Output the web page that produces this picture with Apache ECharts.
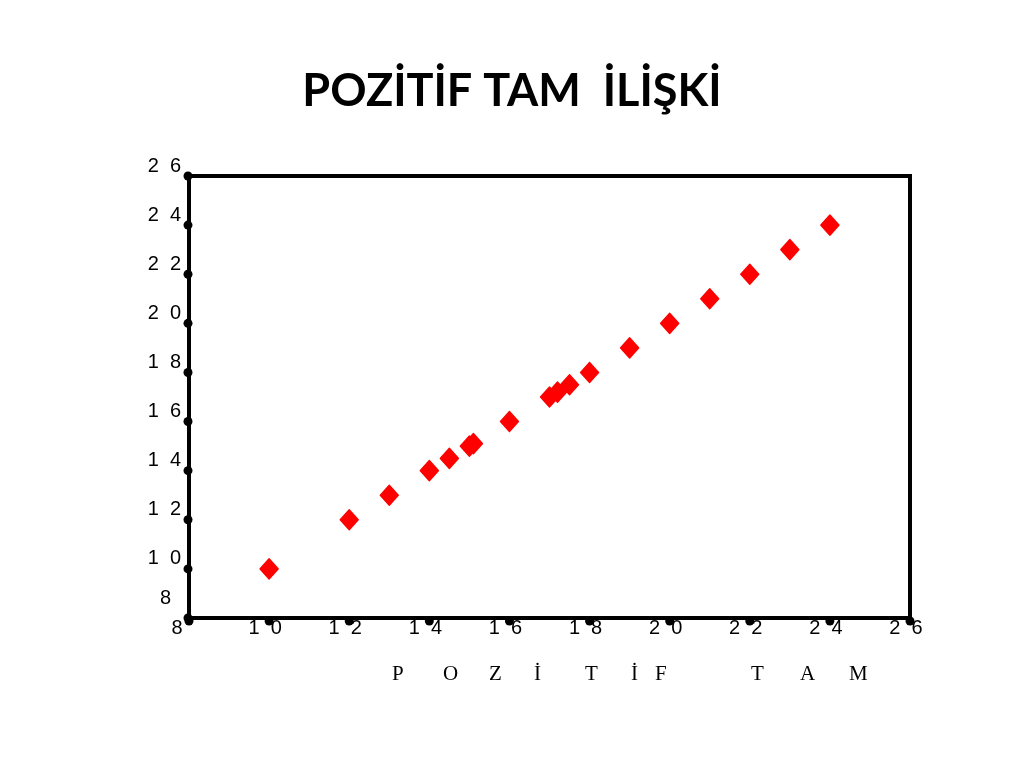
<!DOCTYPE html>
<html><head><meta charset="utf-8">
<script src="https://cdn.jsdelivr.net/npm/echarts@6/dist/echarts.min.js"></script>
<style>html,body{margin:0;padding:0;background:#fff}#c{width:1024px;height:768px}</style>
</head><body><div id="c"></div>
<script>
const titleText = 'POZİTİF TAM  İLİŞKİ';
const axisNameLetters = ['P','O','Z','İ','T','İ','F','T','A','M'];
const axisNameX = [398,449,495,540,591,637,661,757,806,855];
const xValues = [10,12,13,14,14.5,15,15.1,16,17,17.2,17.5,18,19,20,21,22,23,24];
const yValues = [10,12,13,14,14.5,15,15.1,16,17,17.2,17.5,18,19,20,21,22,23,24];
const ticks = [8,10,12,14,16,18,20,22,24,26];

const chart = echarts.init(document.getElementById('c'));
const spaced = v => String(v).split('').join('  ');
const pts = xValues.map((x,i)=>[x,yValues[i]]);
const xDots = ticks.map(t=>[t,8]);
const yDots = ticks.map(t=>[8,t]);

chart.setOption({
  animation:false,
  backgroundColor:'#fff',
  title:{text:titleText,left:'center',top:64,textStyle:{fontFamily:'Lato',fontWeight:'bold',fontSize:45,color:'#000'}},
  grid:{left:189,right:114,top:176,bottom:150,show:true,borderColor:'#000',borderWidth:4,backgroundColor:'transparent'},
  xAxis:{type:'value',min:8,max:26,interval:2,
    axisLine:{show:false},axisTick:{show:false},splitLine:{show:false},
    axisLabel:{margin:0,fontFamily:'Liberation Sans',fontSize:20,color:'#000',
      formatter:v=> v===8 ? '{e|8}' : '{n|'+spaced(v)+'}',
      rich:{n:{fontFamily:'Liberation Sans',fontSize:20,color:'#000',padding:[0,8,0,0]},
            e:{fontFamily:'Liberation Sans',fontSize:20,color:'#000',padding:[0,24,0,0]}}}},
  yAxis:{type:'value',min:8,max:26,interval:2,
    axisLine:{show:false},axisTick:{show:false},splitLine:{show:false},
    axisLabel:{margin:8,verticalAlign:'bottom',fontFamily:'Liberation Sans',fontSize:20,color:'#000',
      formatter:v=> v===8 ? '{e|8}' : '{n|'+spaced(v)+'}',
      rich:{n:{fontFamily:'Liberation Sans',fontSize:20,color:'#000',padding:[0,0,0,0]},
            e:{fontFamily:'Liberation Sans',fontSize:20,color:'#000',padding:[0,10,10,0]}}}},
  series:[
    {type:'scatter',data:xDots,symbol:'circle',symbolSize:9,symbolOffset:[0,3],clip:false,itemStyle:{color:'#000',opacity:1},z:3},
    {type:'scatter',data:yDots,symbol:'circle',symbolSize:9,symbolOffset:[-1,0],clip:false,itemStyle:{color:'#000',opacity:1},z:3},
    {type:'scatter',data:pts,symbol:'diamond',symbolSize:[18,20],clip:false,itemStyle:{color:'#ff0000',opacity:1,borderColor:'#ff0000',borderWidth:1.5,borderJoin:'round'},z:4}
  ],
  graphic: axisNameLetters.map((ch,i)=>({type:'text',left:axisNameX[i]-6,top:664,
    style:{text:ch,fontFamily:'Liberation Serif',fontSize:21,fill:'#000'}}))
});
</script></body></html>
